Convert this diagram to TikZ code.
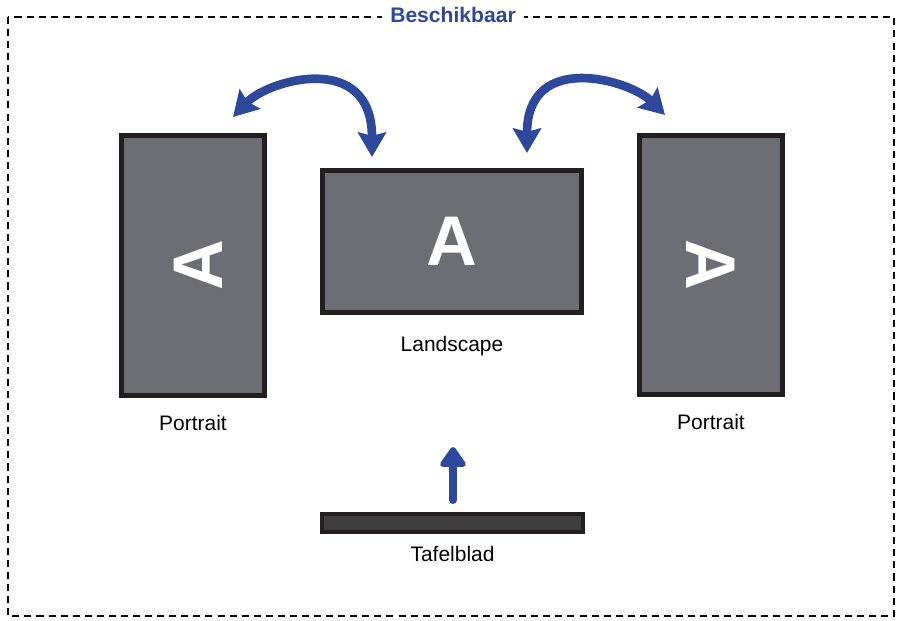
\documentclass[tikz,border=0pt]{standalone}
\usepackage{fontspec}
\setmainfont{Liberation Sans}
\usetikzlibrary{arrows.meta, positioning}
\definecolor{myblue}{RGB}{46, 73, 156}
\definecolor{mygray}{RGB}{109, 110, 115}
\definecolor{myblack}{RGB}{35, 31, 32}
\definecolor{mydarkgray}{RGB}{62, 62, 63}

\begin{document}
\begin{tikzpicture}[
            x=0.03cm, y=-0.03cm,
            screen/.style={
                rectangle,
                draw=myblack,
                fill=mygray,
                line width=0.15cm,
                inner sep=0pt
            },
            plate/.style={
                rectangle,
                draw=myblack,
                fill=mydarkgray,
                line width=0.12cm,
                inner sep=0pt,
                minimum width=7.83cm,
                minimum height=0.54cm
            },
            letter/.style={text=white, font=\fontsize{60}{60}\selectfont\bfseries},
            caption/.style={font=\fontsize{17.9}{20}\selectfont, inner sep=0pt},
            rotarrow/.style={
                draw=myblue,
                line width=7.4pt,
                {Stealth[length=21pt, width=24pt, inset=3pt]}-{Stealth[length=21pt, width=24pt, inset=3pt]}
            },
            liftarrow/.style={
                draw=myblue,
                line width=6.8pt,
                line cap=round,
                -{Triangle[length=19pt, width=25pt, round]}
            }
        ]

            \useasboundingbox (0,0) rectangle (902,620);

            % Frame
            \draw[black, line width=1.3pt, dash pattern=on 6pt off 4.3pt] (8,17) rectangle (894,616);
            \node[fill=white, text=myblue, font=\fontsize{18}{20}\selectfont\bfseries, inner xsep=7pt] (title) at (453,15) {Beschikbaar};

            % Screens
            \node[screen, minimum width=4.29cm, minimum height=7.8cm] (lport) at (193,265.5) {};
            \node[screen, minimum width=7.77cm, minimum height=4.26cm] (land) at (452,241.5) {};
            \node[screen, minimum width=4.29cm, minimum height=7.77cm] (rport) at (711,265) {};
            \node[plate] (tafel) at (452.5,523) {};

            \node[letter, rotate=90] (lletter) at (198,265) {A};
            \node[letter] (landletter) at (land) {A};
            \node[letter, rotate=-90] (rletter) at (rport) {A};

            % Captions
            \node[caption, below=0.5cm of lport] (lportcap) {Portrait};
            \node[caption, below=0.62cm of land] (landcap) {Landscape};
            \node[caption, below=0.5cm of rport] (rportcap) {Portrait};
            \node[caption, below=0.35cm of tafel] (tafelcap) {Tafelblad};

            % Arrows
            \coordinate (lswing-a) at (233,117);
            \coordinate (lswing-b) at (372,157);
            \coordinate (rswing-a) at (527,153);
            \coordinate (rswing-b) at (665,115);
            \coordinate (lift-a) at (453,500);
            \coordinate (lift-b) at (453,447);

            \draw[rotarrow] (lswing-a) .. controls (268,80) and (372,50) .. (lswing-b);
            \draw[rotarrow] (rswing-a) .. controls (527,50) and (630,80) .. (rswing-b);
            \draw[liftarrow] (lift-a) -- (lift-b);
        \end{tikzpicture}
\end{document}
